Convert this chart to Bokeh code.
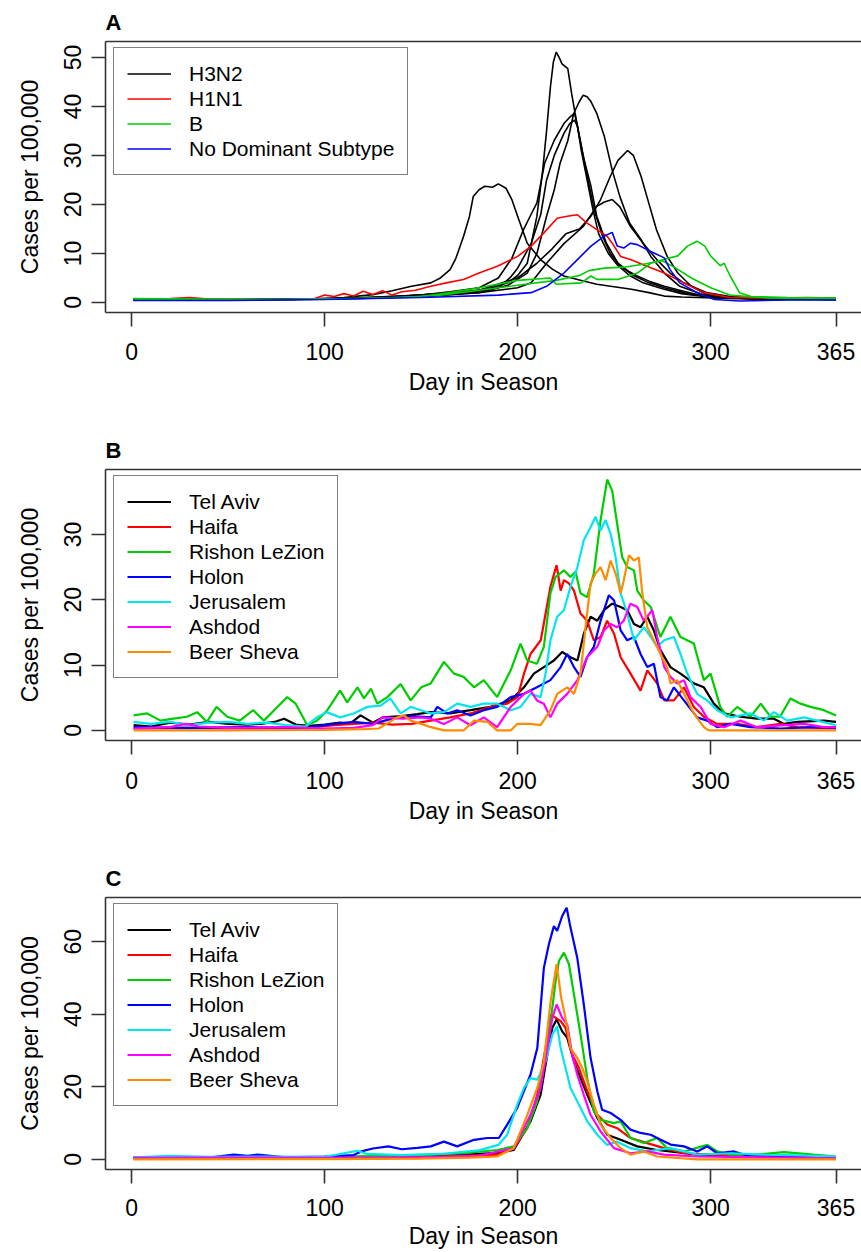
from bokeh.plotting import figure
from bokeh.models import FixedTicker, LinearAxis, Legend, LegendItem, Range1d
from bokeh.layouts import column
from bokeh.embed import file_html
from bokeh.resources import INLINE

# ---------------- data ----------------
X_TICKS = [0, 100, 200, 300, 365]
X_LABEL = "Day in Season"
Y_LABEL = "Cases per 100,000"
YTICKS_A = [0, 10, 20, 30, 40, 50]
YTICKS_B = [0, 10, 20, 30]
YTICKS_C = [0, 20, 40, 60]

# Panel A: (day, cases)
h3n2_1 = [(1, 0.5), (30, 0.6), (60, 0.5), (90, 0.7), (110, 1.0), (125, 1.6), (135, 2.4), (145, 3.3), (155, 4.0),
          (160, 5.0), (165, 6.7), (168, 9.0), (172, 13.5), (175, 17.5), (177, 21.6), (180, 23.0), (183, 23.7),
          (187, 23.5), (190, 24.2), (194, 23.3), (197, 21.0), (200, 17.6), (205, 12.1), (212, 8.7), (218, 6.8),
          (224, 5.4), (232, 4.6), (241, 3.7), (250, 3.2), (259, 2.7), (268, 2.0), (276, 1.3), (285, 1.1),
          (293, 1.0), (310, 0.8), (330, 0.6), (350, 0.6), (365, 0.6)]
h3n2_2 = [(1, 0.6), (40, 0.5), (80, 0.6), (110, 0.8), (140, 1.3), (160, 1.8), (175, 2.3), (185, 2.8), (195, 4.0),
          (200, 5.5), (205, 8.0), (210, 17.6), (213, 27.0), (215, 35.0), (217, 44.0), (218.5, 49.0), (220, 51.1),
          (221.5, 50.0), (223, 48.7), (226, 47.7), (228, 42.6), (231, 35.9), (234, 29.8), (238, 23.7), (241, 17.6),
          (246, 12.1), (252, 8.0), (257, 6.5), (262, 5.4), (269, 4.2), (276, 3.3), (285, 2.4), (293, 1.6),
          (305, 1.0), (320, 0.8), (340, 0.7), (365, 0.6)]
h3n2_3 = [(1, 0.7), (50, 0.6), (100, 0.7), (130, 1.0), (160, 1.5), (180, 2.0), (195, 3.5), (205, 6.0), (210, 10.0),
          (215, 17.6), (219, 23.0), (222, 28.4), (226, 33.0), (229, 38.5), (232, 41.0), (234, 42.3), (236, 42.0),
          (238, 41.0), (241, 38.6), (245, 33.8), (249, 27.0), (253, 21.6), (258, 16.2), (264, 12.8), (269, 9.4),
          (276, 6.0), (284, 3.3), (296, 1.6), (310, 1.0), (330, 0.8), (365, 0.7)]
h3n2_4 = [(1, 0.6), (50, 0.5), (100, 0.7), (130, 1.0), (150, 1.5), (165, 2.2), (180, 3.0), (190, 5.0), (197, 9.0),
          (203, 14.8), (207, 18.0), (210, 20.3), (214, 28.4), (219, 33.1), (224, 36.5), (227, 37.8), (229.5, 38.6),
          (231, 36.0), (233, 31.0), (236, 25.0), (239, 19.0), (242, 14.0), (247, 10.0), (252, 7.5), (258, 5.5),
          (265, 4.0), (275, 2.8), (285, 1.8), (300, 1.0), (320, 0.8), (365, 0.7)]
h3n2_5 = [(1, 0.6), (60, 0.6), (110, 0.8), (150, 1.2), (175, 2.0), (190, 3.0), (196, 5.0), (200, 7.0), (207, 12.0),
          (212, 18.0), (215, 25.0), (219, 30.0), (224, 34.5), (227, 36.5), (229.5, 37.2), (231, 36.0), (234, 30.0),
          (237, 24.0), (240, 18.5), (244, 13.5), (248, 10.0), (253, 7.5), (260, 5.5), (268, 4.0), (276, 3.0),
          (288, 1.8), (300, 1.2), (320, 0.8), (365, 0.6)]
h3n2_6 = [(1, 0.5), (60, 0.6), (110, 0.8), (150, 1.5), (180, 2.5), (200, 5.0), (210, 8.0), (218, 11.0), (225, 14.0),
          (232, 15.0), (238, 17.6), (243, 21.0), (248, 25.7), (252, 29.0), (257, 31.0), (260, 30.0), (264, 25.7),
          (267, 21.6), (272, 14.8), (277.5, 9.4), (283, 6.0), (290, 3.3), (296, 2.0), (302, 1.3), (315, 1.0),
          (335, 0.8), (365, 0.7)]
h3n2_7 = [(1, 0.5), (60, 0.5), (110, 0.7), (150, 1.2), (180, 2.0), (200, 3.0), (207, 4.0), (215, 8.0), (224, 12.0),
          (234, 15.5), (241, 19.6), (245, 20.5), (249, 21.0), (253, 19.5), (258.5, 15.5), (265, 12.1), (272, 8.8),
          (279, 6.0), (286, 4.0), (298, 2.0), (310, 1.2), (330, 0.8), (365, 0.6)]
h1n1 = [(1, 0.7), (20, 0.8), (30, 1.0), (40, 0.7), (60, 0.6), (80, 0.6), (95, 0.8), (100, 1.5), (105, 1.2),
        (110, 1.8), (115, 1.3), (120, 2.3), (125, 1.6), (130, 2.4), (135, 1.5), (140, 2.2), (147, 2.5), (155, 3.3),
        (163, 4.0), (172, 4.7), (180, 6.0), (189.5, 7.4), (200, 9.4), (207, 11.5), (213.6, 14.2), (220.5, 17.2),
        (225.7, 17.6), (231, 17.9), (236, 16.2), (241.3, 14.8), (246.4, 13.5), (249, 12.1), (253.4, 9.4),
        (258.5, 8.75), (267, 7.4), (276, 6.0), (286, 4.0), (296.5, 2.0), (310, 1.0), (330, 0.9), (350, 1.0),
        (365, 0.9)]
flu_b_1 = [(1, 0.8), (40, 0.7), (80, 0.6), (120, 0.8), (150, 1.2), (165, 2.0), (180, 3.0), (200, 4.5), (217, 5.0),
           (220, 3.7), (233, 4.0), (238, 5.4), (241, 4.7), (252, 4.7), (262, 6.0), (269, 8.0), (276, 8.8),
           (283, 9.5), (288, 11.5), (293, 12.5), (297, 11.5), (300, 9.5), (305, 7.5), (307, 8.0), (310, 5.5),
           (315, 2.0), (321, 1.2), (340, 1.0), (365, 0.9)]
flu_b_2 = [(1, 0.6), (50, 0.5), (100, 0.7), (140, 1.0), (160, 1.5), (180, 2.5), (200, 3.5), (220, 4.5), (232, 5.5),
           (237, 6.5), (245, 7.0), (255, 7.2), (265, 7.8), (275, 8.5), (282, 7.0), (290, 5.0), (300, 3.0),
           (310, 1.5), (330, 0.9), (365, 0.7)]
no_dominant = [(1, 0.4), (50, 0.4), (100, 0.6), (150, 1.0), (190, 1.5), (200, 1.8), (207, 2.0), (215, 3.3),
               (224, 6.0), (231, 8.75), (238, 11.5), (244.7, 13.5), (249, 14.3), (251.6, 11.5), (255, 11.1),
               (258.5, 12.1), (262, 11.8), (269, 10.4), (276, 9.1), (279, 6.7), (284, 4.0), (293, 2.0),
               (302, 0.6), (315, 0.3), (340, 0.5), (365, 0.5)]

# Panel B
tel_aviv_b = [(1, 0.8), (10, 0.6), (20, 1.2), (30, 0.9), (40, 1.3), (50, 1.0), (60, 0.9), (67, 1.0), (74, 1.3),
              (79, 1.8), (85, 0.9), (92, 0.7), (100, 0.9), (108, 1.2), (113, 1.0), (118.6, 2.3), (125, 1.2),
              (130, 2.0), (140, 2.2), (148, 2.5), (155, 2.8), (165, 2.6), (175.6, 3.1), (186, 3.6), (196.4, 4.6),
              (203.3, 6.6), (208.4, 8.7), (213.6, 9.7), (218.8, 10.7), (223.1, 12.0), (227.4, 11.2), (231, 10.7),
              (234.3, 14.8), (237.8, 17.4), (241.3, 16.8), (244.7, 18.4), (249, 19.4), (253.4, 18.9),
              (256.8, 18.4), (260.3, 16.3), (263.7, 15.8), (267.2, 17.4), (270.6, 15.3), (274, 12.3),
              (279.2, 9.7), (284.4, 8.7), (291.3, 7.2), (296.5, 6.6), (301.7, 4.1), (307, 2.6), (315.5, 2.1),
              (324, 1.8), (332.8, 1.8), (338, 1.0), (344.9, 1.3), (358.7, 1.5), (365, 1.3)]
haifa_b = [(1, 0.3), (30, 0.4), (60, 0.3), (90, 0.4), (105, 0.8), (115, 1.0), (125, 1.2), (135, 0.9), (145, 1.0),
           (155, 1.5), (165, 2.0), (175.6, 2.6), (186, 3.6), (194.6, 4.1), (200, 5.1), (203.3, 8.7), (206.7, 11.7),
           (212, 13.8), (214.5, 17.9), (217, 22.0), (220.2, 25.3), (222.3, 21.4), (224, 23.0), (226.6, 22.5),
           (229.2, 21.4), (232.6, 17.9), (236, 16.8), (239.5, 13.8), (243, 14.3), (246.4, 16.8), (250, 14.8),
           (253.4, 11.2), (258.5, 8.7), (263.7, 6.1), (267.2, 9.2), (272.3, 7.2), (276, 4.6), (281, 4.6),
           (286.2, 6.6), (291.3, 3.6), (296.5, 2.1), (303.4, 1.0), (313.8, 1.0), (324, 0.5), (336.2, 1.0),
           (344.9, 0.5), (365, 0.3)]
rishon_b = [(1, 2.3), (8, 2.6), (15, 1.5), (21.7, 1.8), (28.6, 2.1), (34, 2.8), (39, 1.3), (44, 3.6), (49.5, 2.1),
            (56, 1.5), (63, 3.1), (68.5, 1.5), (75.5, 3.6), (80.6, 5.1), (85, 4.1), (91, 0.8), (96, 1.5),
            (101.4, 3.1), (108, 6.1), (111.7, 4.3), (117, 6.6), (120.4, 4.9), (124, 6.4), (127.3, 4.1),
            (132.5, 5.1), (139.4, 7.1), (144.6, 4.6), (150, 6.6), (155, 7.2), (161.8, 10.5), (167, 8.7),
            (172, 8.2), (177.4, 6.6), (182.5, 7.7), (189.4, 5.1), (196.4, 9.2), (201.5, 13.3), (205, 10.7),
            (210, 10.2), (213.6, 12.8), (217, 21.0), (219.7, 23.5), (224, 24.5), (227.4, 23.5), (230, 24.3),
            (232.6, 21.0), (236, 20.4), (239.5, 24.0), (243, 32.2), (246.4, 38.4), (249, 36.7), (251.6, 31.6),
            (254.2, 26.5), (256.8, 25.0), (260.3, 24.5), (262, 21.4), (265.4, 19.9), (269, 18.9), (274, 14.3),
            (279.2, 17.4), (284.4, 14.3), (291.3, 13.3), (296.5, 7.7), (300, 8.7), (305, 3.6), (308.6, 2.1),
            (313.8, 3.6), (320.7, 2.1), (326, 4.1), (331, 2.1), (336, 2.1), (341.4, 4.9), (346.6, 4.1),
            (351.8, 3.6), (358.7, 3.1), (365, 2.3)]
holon_b = [(1, 0.5), (30, 0.4), (60, 0.5), (90, 0.4), (105, 1.0), (115, 1.3), (125, 1.0), (135, 1.8), (145, 2.2),
           (155, 2.0), (158.4, 3.6), (163.5, 2.6), (168.7, 3.1), (175.6, 2.3), (182.5, 3.1), (189.4, 3.6),
           (196.4, 5.1), (203.3, 5.6), (210, 6.6), (217, 7.7), (222.3, 9.7), (225.7, 11.7), (229.2, 9.7),
           (232.6, 8.2), (236, 11.2), (239.5, 12.8), (243, 16.8), (247.3, 20.7), (250, 19.9), (253.4, 15.3),
           (256.8, 13.8), (260.3, 14.3), (263.7, 11.7), (267.2, 9.7), (270.6, 10.2), (274, 5.1), (277.5, 4.6),
           (281, 6.6), (286.2, 4.6), (293, 2.0), (298.2, 1.5), (303.4, 0.5), (310.4, 1.0), (320.7, 0.5),
           (336.2, 0.3), (353.5, 0.5), (365, 0.4)]
jerusalem_b = [(1, 1.3), (10, 1.0), (20, 1.3), (30, 0.8), (40, 1.2), (50, 1.3), (60, 1.0), (70, 1.2), (80, 0.8),
               (90, 0.6), (96, 2.0), (101, 2.8), (108, 2.0), (115, 2.6), (122, 3.6), (129, 3.8), (134, 4.9),
               (139.4, 2.6), (144.6, 3.6), (150, 3.1), (155, 2.6), (161.8, 2.8), (168.7, 4.1), (175.6, 3.6),
               (182.5, 4.1), (189.4, 4.1), (196.4, 3.1), (201.5, 3.6), (206.7, 5.6), (211.9, 5.1), (214.5, 8.7),
               (217, 13.8), (220.5, 17.4), (224, 18.4), (227.4, 22.0), (231, 25.0), (234.3, 29.1), (237.8, 31.1),
               (240.4, 32.7), (243, 30.6), (245.6, 32.2), (248.2, 30.1), (250.8, 26.5), (253.4, 21.0),
               (256.8, 17.9), (260.3, 13.8), (265.4, 15.8), (269, 14.3), (272.3, 12.8), (276, 13.8), (281, 14.3),
               (284.4, 11.7), (287.9, 8.7), (293, 5.6), (298.2, 4.6), (303.4, 3.1), (310.4, 2.0), (320.7, 2.6),
               (327.6, 1.5), (332.8, 2.8), (339.7, 1.5), (348.3, 2.0), (355.2, 1.5), (362.2, 1.0), (365, 0.8)]
ashdod_b = [(1, 0.3), (20, 0.5), (28, 1.0), (35, 0.6), (50, 0.4), (80, 0.5), (100, 0.3), (115, 0.4), (125, 0.8),
            (130, 2.0), (140, 1.8), (150, 2.0), (155, 1.8), (161.8, 1.0), (168.7, 2.0), (175.6, 0.8), (182.5, 2.0),
            (189.4, 0.5), (196.4, 3.6), (203.3, 5.6), (206.7, 6.1), (210, 4.6), (213.6, 4.1), (217, 2.0),
            (220.5, 4.1), (225.7, 5.6), (231, 7.7), (236, 11.2), (241.3, 12.8), (244.7, 15.3), (248.2, 16.3),
            (251.6, 15.8), (255, 16.8), (258.5, 19.4), (262, 18.9), (265.4, 16.8), (269.8, 18.4), (272.3, 14.3),
            (276, 9.7), (279.2, 8.2), (282.7, 7.2), (286.2, 7.7), (289.6, 5.1), (294.8, 3.6), (300, 1.0),
            (307, 0.5), (315.5, 1.5), (324, 0.5), (338, 0.8), (348.3, 1.0), (358.7, 0.5), (365, 0.5)]
beer_sheva_b = [(1, 0.0), (50, 0.0), (100, 0.1), (120, 0.2), (128, 0.3), (132, 1.0), (137.6, 2.0), (141, 2.3),
                (144.6, 1.5), (150, 1.0), (155, 0.5), (161.8, 0.0), (172, 0.0), (177.4, 1.5), (184.3, 1.3),
                (189.4, 0.0), (196.4, 0.0), (199.8, 1.0), (206.7, 1.0), (211.9, 0.8), (217, 3.1), (220.5, 5.6),
                (225.7, 6.6), (229.2, 5.6), (232.6, 8.7), (235.2, 15.8), (237.8, 22.5), (240.4, 24.0), (243, 25.0),
                (245.6, 23.0), (248.2, 26.0), (250.8, 24.0), (253.4, 21.0), (255, 23.0), (257.7, 26.8),
                (260.3, 26.0), (262.8, 26.5), (264.6, 21.0), (267.2, 15.8), (270.6, 13.8), (274, 11.7),
                (277.5, 9.7), (279.2, 7.2), (282.7, 7.7), (286.2, 5.6), (291.3, 2.6), (296.5, 0.5), (299, 0.0),
                (365, 0.0)]

# Panel C
tel_aviv_c = [(1, 0.4), (60, 0.5), (120, 0.6), (160, 1.0), (190, 1.8), (198, 2.6), (206.7, 10.5), (211.9, 17.8),
              (215.4, 28.9), (218, 36.3), (220.2, 38.6), (223.1, 35.3), (225.7, 33.5), (229.2, 27.0),
              (232.6, 22.4), (236.1, 17.8), (241.3, 11.4), (246.4, 6.8), (253.4, 5.4), (262, 3.6), (272.3, 2.6),
              (293.1, 1.3), (365, 0.5)]
haifa_c = [(1, 0.3), (60, 0.4), (120, 0.5), (160, 0.8), (189.4, 1.3), (198, 3.1), (205, 8.6), (210.2, 17.8),
           (214.5, 30.7), (217.1, 40.0), (222.3, 38.1), (224.8, 36.3), (228.3, 28.9), (231.8, 25.2), (236.1, 18.8),
           (241.3, 12.3), (246.4, 9.6), (251.6, 8.6), (258.5, 5.9), (267.2, 4.5), (275.8, 3.1), (286.2, 1.7),
           (301.7, 1.3), (365, 0.5)]
rishon_c = [(1, 0.5), (50, 0.6), (100, 0.7), (130, 1.0), (155, 1.3), (172.2, 1.7), (189.4, 2.6), (198, 3.6),
            (205, 8.6), (210.2, 16.0), (215.4, 30.7), (219.7, 49.2), (221.4, 54.7), (224, 57.0), (226.6, 53.8),
            (229.2, 45.5), (232.6, 34.4), (236.1, 22.4), (239.5, 13.2), (243, 10.9), (249.9, 10.0), (253.4, 10.5),
            (258.5, 5.9), (265.4, 4.5), (272.3, 5.9), (277.5, 3.1), (286.2, 2.2), (298.3, 4.0), (303.4, 2.2),
            (310.3, 1.3), (324, 1.3), (338, 2.0), (353.5, 1.3), (365, 0.8)]
holon_c = [(1, 0.5), (20, 0.6), (40, 0.5), (53, 1.3), (60, 1.0), (65, 1.3), (80, 0.6), (100, 0.8), (115, 1.2),
           (119, 2.2), (125, 3.0), (133, 3.6), (140, 2.8), (148, 3.2), (155, 3.6), (161.8, 4.9), (168.7, 3.6),
           (177.4, 5.4), (184.3, 5.9), (190.3, 5.9), (194.6, 9.6), (199.8, 14.2), (206.7, 23.4), (210.2, 30.7),
           (213.6, 52.8), (216.2, 59.3), (218.8, 64.3), (220.5, 63.0), (223.1, 67.1), (225.4, 69.4),
           (227.4, 63.9), (230.9, 55.6), (234.3, 42.7), (237.8, 28.0), (241.3, 18.8), (243.8, 13.7),
           (248.2, 12.8), (253.4, 10.9), (258.5, 8.2), (263.7, 7.3), (269, 6.8), (274.1, 5.4), (279.3, 4.1),
           (286.2, 3.6), (293.1, 2.2), (298.3, 3.6), (303.4, 1.7), (312.1, 2.2), (320.7, 0.8), (336.2, 0.8),
           (353.5, 0.5), (365, 0.35)]
jerusalem_c = [(1, 0.6), (20, 1.0), (40, 0.7), (70, 0.8), (100, 0.7), (117, 2.4), (122, 1.5), (140, 1.2),
               (160, 1.5), (180, 2.5), (190, 4.0), (194.6, 6.8), (199.8, 15.1), (203.3, 19.7), (206.7, 22.4),
               (210.2, 22.0), (214.5, 27.0), (218, 34.4), (220.5, 36.7), (222.3, 30.7), (224, 27.0), (227.4, 19.7),
               (230.9, 16.0), (236.1, 10.5), (241.3, 6.8), (246.4, 4.0), (251.6, 4.9), (258.5, 3.1), (267.2, 2.2),
               (279.3, 3.1), (293.1, 1.3), (310.3, 1.7), (327.6, 1.3), (344.9, 1.1), (365, 0.8)]
ashdod_c = [(1, 0.4), (50, 0.5), (100, 0.4), (150, 0.6), (180, 1.0), (198, 3.1), (206.7, 12.3), (211.9, 19.7),
            (215.4, 30.7), (218, 39.0), (220.2, 42.7), (223.1, 39.0), (225.7, 37.2), (228.3, 28.9), (230.9, 23.4),
            (234.3, 17.8), (237.8, 12.3), (243, 7.7), (249.9, 3.1), (258.5, 1.7), (267.2, 2.2), (275.8, 1.3),
            (293.1, 0.8), (365, 0.3)]
beer_sheva_c = [(1, 0.0), (100, 0.1), (150, 0.2), (175, 0.5), (189.4, 0.8), (198, 3.1), (205, 12.3), (210.2, 19.7),
                (213.6, 27.0), (217.1, 43.6), (220.2, 53.8), (222.6, 44.5), (224.8, 39.0), (227.4, 30.7),
                (230.9, 28.0), (233.5, 25.2), (236.1, 21.5), (239.5, 15.1), (243, 9.6), (248.2, 5.9), (253.4, 3.1),
                (258.5, 1.3), (265.4, 2.2), (272.3, 0.8), (293.1, 0.0), (365, 0.0)]

CITIES = ["Tel Aviv", "Haifa", "Rishon LeZion", "Holon", "Jerusalem", "Ashdod", "Beer Sheva"]
CITY_COLORS = ["#000000", "#FF0000", "#00CD00", "#0000FF", "#00E5EE", "#FF00FF", "#FF8C00"]
SUBTYPES = ["H3N2", "H1N1", "B", "No Dominant Subtype"]
SUBTYPE_COLORS = ["#000000", "#FF0000", "#00CD00", "#0000FF"]

panel_a = [("H3N2", s) for s in [h3n2_1, h3n2_2, h3n2_3, h3n2_4, h3n2_5, h3n2_6, h3n2_7]] + \
          [("H1N1", h1n1), ("B", flu_b_1), ("B", flu_b_2), ("No Dominant Subtype", no_dominant)]
panel_b = list(zip(CITIES, [tel_aviv_b, haifa_b, rishon_b, holon_b, jerusalem_b, ashdod_b, beer_sheva_b]))
panel_c = list(zip(CITIES, [tel_aviv_c, haifa_c, rishon_c, holon_c, jerusalem_c, ashdod_c, beer_sheva_c]))

# ---------------- styling ----------------
AX_FONT = "Liberation Sans"
LEG_FONT = "Liberation Sans"
BOX = "#333333"
W = 861


def make_panel(letter, series, names, colors, yticks, yrange, height, bottom, legend_y, lw, xstand, xlstand):
    p = figure(width=W, height=height, output_backend="svg", toolbar_location=None,
               x_range=Range1d(-13.56, 378.2), y_range=Range1d(*yrange),
               x_axis_type=None, y_axis_type=None,
               min_border_left=105, min_border_right=0, min_border_top=41, min_border_bottom=bottom)
    p.outline_line_color = None
    p.title.text = letter
    p.title.text_font = LEG_FONT
    p.title.text_font_size = "22px"
    p.title.text_font_style = "bold"
    p.title.text_color = "black"
    p.title.align = "left"
    p.title.offset = 0
    p.title.standoff = 13

    common = dict(axis_line_color=BOX, axis_line_width=1.6, major_tick_line_color=BOX, major_tick_line_width=1.6,
                  major_tick_out=14, major_tick_in=0, minor_tick_out=0, minor_tick_in=0,
                  major_label_text_font=AX_FONT, major_label_text_font_size="23px", major_label_text_color="black",
                  axis_label_text_font=AX_FONT, axis_label_text_font_size="23px", axis_label_text_color="black",
                  axis_label_text_font_style="normal")
    xa = LinearAxis(ticker=FixedTicker(ticks=X_TICKS), axis_label=X_LABEL,
                    major_label_standoff=xstand, axis_label_standoff=xlstand, **common)
    ya = LinearAxis(ticker=FixedTicker(ticks=yticks), axis_label=Y_LABEL,
                    major_label_orientation="vertical", major_label_standoff=10, axis_label_standoff=19, **common)
    top = LinearAxis(ticker=FixedTicker(ticks=[]), axis_line_color=BOX, axis_line_width=1.6,
                     major_tick_out=0, major_tick_in=0, minor_tick_out=0, minor_tick_in=0,
                     major_label_text_font_size="0px", major_label_standoff=0)
    p.add_layout(xa, "below")
    p.add_layout(ya, "left")
    p.add_layout(top, "above")

    color_of = dict(zip(names, colors))
    first = {}
    for name, pts in series:
        days = [d for d, _ in pts]
        vals = [v for _, v in pts]
        r = p.line(days, vals, line_color=color_of[name], line_width=lw)
        first.setdefault(name, r)

    items = [LegendItem(label=n, renderers=[first[n]]) for n in names]
    leg = Legend(items=items, location=(8, legend_y), orientation="vertical",
                 border_line_color="black", border_line_width=1.5, background_fill_color="white",
                 background_fill_alpha=1.0, label_text_font=LEG_FONT, label_text_font_size="21px",
                 label_text_color="black",
                 glyph_width=44, glyph_height=25, label_height=25, label_standoff=18,
                 padding=13, spacing=0, margin=0)
    p.add_layout(leg)
    return p


pa = make_panel("A", panel_a, SUBTYPES, SUBTYPE_COLORS, YTICKS_A, (-2.05, 53.25), 428, 116, 137, 1.6, 16, 6)
pb = make_panel("B", panel_b, CITIES, CITY_COLORS, YTICKS_B, (-1.54, 39.94), 428, 116, 62, 2.2, 17, 6)
pc = make_panel("C", panel_c, CITIES, CITY_COLORS, YTICKS_C, (-2.78, 72.2), 396, 83, 63, 2.2, 15, 4)

layout = column(pa, pb, pc, spacing=0)
open("out.html", "w").write(file_html(layout, INLINE))
